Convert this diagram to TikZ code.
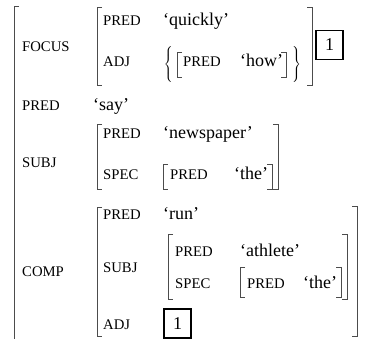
\documentclass[tikz,border=0pt]{standalone}
\usepackage{fontspec}
\setmainfont{Liberation Serif}
\tikzset{
  attr/.style={anchor=base west, inner sep=0pt, font=\fontsize{14.7}{16}\selectfont},
  val/.style={anchor=base west, inner sep=0pt, font=\fontsize{18}{20}\selectfont},
  brak/.style={draw=black!70, line width=1pt},
  tagbox/.style={draw, line width=1.6pt, minimum width=27pt, minimum height=29pt, inner sep=0pt, font=\fontsize{18}{20}\selectfont},
}
\newcommand{\lbrak}[3]{\draw[brak] (#1+5,#2) -- (#1,#2) -- (#1,#3) -- (#1+5,#3);}
\newcommand{\rbrak}[3]{\draw[brak] (#1-5,#2) -- (#1,#2) -- (#1,#3) -- (#1-5,#3);}
\begin{document}
\begin{tikzpicture}[x=1pt, y=-1pt]
        \useasboundingbox (0,0) rectangle (365,339);

        \node[attr] (focus) at (22,52) {FOCUS};
        \node[attr] (fpred) at (103,26) {PRED};
        \node[val] (quickly) at (163,26) {‘quickly’};
        \node[attr] (fadj) at (103,67) {ADJ};
        \node[inner sep=0pt] (lbrace) at (169,65) {$\left\{\rule[-17pt]{0pt}{35pt}\right.$};
        \node[attr] (hpred) at (183,67) {PRED};
        \node[val] (how) at (240,67) {‘how’};
        \node[inner sep=0pt] (rbrace) at (296,65) {$\left.\rule[-17pt]{0pt}{35pt}\right\}$};
        \node[tagbox] (tag) at (329.5,45) {1};

        \node[attr] (pred) at (22,111) {PRED};
        \node[val] (say) at (93,111) {‘say’};

        \node[attr] (subj) at (22,168) {SUBJ};
        \node[attr] (spred) at (103,139) {PRED};
        \node[val] (newspaper) at (163,139) {‘newspaper’};
        \node[attr] (sspec) at (103,180) {SPEC};
        \node[attr] (dpred) at (170,180) {PRED};
        \node[val] (the) at (234,180) {‘the’};

        \node[attr] (comp) at (22,277) {COMP};
        \node[attr] (cpred) at (103,220) {PRED};
        \node[val] (run) at (163,220) {‘run’};
        \node[attr] (csubj) at (103,273) {SUBJ};
        \node[attr] (apred) at (175,257) {PRED};
        \node[val] (athlete) at (240,257) {‘athlete’};
        \node[attr] (aspec) at (175,289) {SPEC};
        \node[attr] (tpred) at (247,289) {PRED};
        \node[val] (athe) at (303,289) {‘the’};
        \node[attr] (cadj) at (103,330) {ADJ};
        \node[tagbox] (ctag) at (177.5,323.5) {1};

        % brackets
        \draw[brak] (19,7) -- (14,7) -- (14,339);
        \lbrak{97}{8}{86} \rbrak{312}{8}{86}
        \lbrak{177}{53}{78} \rbrak{286}{53}{78}
        \lbrak{97}{125}{190} \rbrak{278}{125}{190}
        \lbrak{163}{165}{190} \rbrak{272}{165}{190}
        \lbrak{97}{208}{337} \rbrak{357}{207}{337}
        \lbrak{168}{235}{300} \rbrak{347}{235}{300}
        \lbrak{240}{268}{298} \rbrak{341}{268}{298}

    \end{tikzpicture}
\end{document}
